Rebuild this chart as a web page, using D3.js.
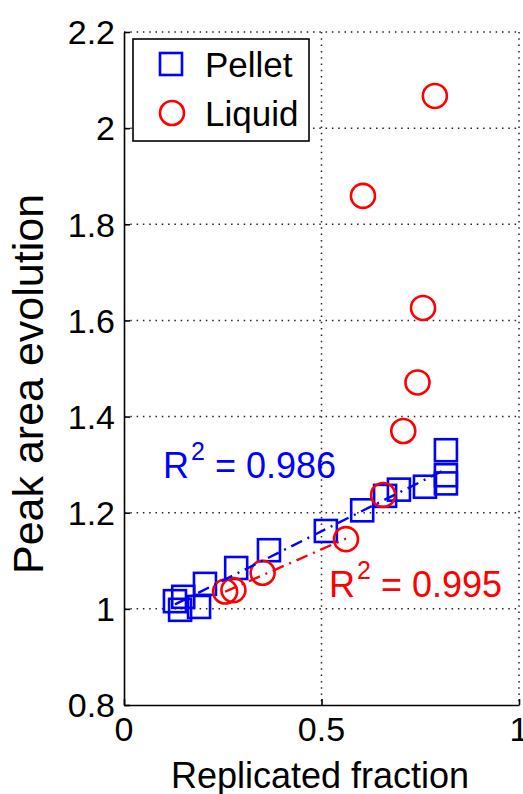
<!doctype html>
<html>
<head>
    <style>
        body { margin: 0; background: #fff; }
        text { font-family: "Liberation Sans", Arial, Helvetica, sans-serif; fill: #000; }
        .grid line { stroke: #222; stroke-width: 1.5; stroke-dasharray: 1.5, 4.8; }
    </style>
    <script src="https://cdnjs.cloudflare.com/ajax/libs/d3/7.8.5/d3.min.js"></script>
</head>
<body>
<svg width="523" height="794" class="svg1"></svg>
<script>

    // Pellet (squares)
    var pelletX = [0.129, 0.142, 0.150, 0.190, 0.205, 0.284, 0.367, 0.511, 0.603, 0.661, 0.696, 0.762, 0.815, 0.815, 0.815];
    var pelletY = [1.016, 0.998, 1.025, 1.004, 1.052, 1.085, 1.122, 1.162, 1.205, 1.235, 1.248, 1.254, 1.261, 1.278, 1.330];

    // Liquid (circles) - first four are the ones in the linear fit
    var liquidX = [0.256, 0.277, 0.351, 0.562, 0.656, 0.707, 0.743, 0.757, 0.605, 0.787];
    var liquidY = [1.036, 1.039, 1.075, 1.145, 1.237, 1.370, 1.471, 1.626, 1.859, 2.067];
    var liquidFitN = 4;

    var xTicks = [0, 0.5, 1];
    var xTickLabels = ["0", "0.5", "1"];
    var yTicks = [0.8, 1, 1.2, 1.4, 1.6, 1.8, 2, 2.2];
    var yTickLabels = ["0.8", "1", "1.2", "1.4", "1.6", "1.8", "2", "2.2"];

    var r2Pellet = "0.986", r2Liquid = "0.995";

    var svg = d3.select(".svg1");
    var padL = 124, padR = 519, padT = 32, padB = 705;

    var xScale = d3.scaleLinear().domain([0, 1]).range([padL, padR]),
        yScale = d3.scaleLinear().domain([0.8, 2.2]).range([padB, padT]);

    // dotted grid
    var grid = svg.append("g").attr("class", "grid");
    grid.selectAll(".gx")
        .data(xTicks.filter(function(d) { return d > 0; }))
        .enter().append("line")
        .attr("x1", function(d) { return xScale(d); })
        .attr("x2", function(d) { return xScale(d); })
        .attr("y1", padT).attr("y2", padB);
    grid.selectAll(".gy")
        .data(yTicks.filter(function(d) { return d > 0.8; }))
        .enter().append("line")
        .attr("y1", function(d) { return yScale(d); })
        .attr("y2", function(d) { return yScale(d); })
        .attr("x1", padL).attr("x2", padR);

    // axes (ticks pointing inward)
    svg.append("g")
        .attr("transform", "translate(0," + padB + ")")
        .call(d3.axisTop(xScale).tickValues(xTicks).tickSize(6).tickSizeOuter(0).tickFormat(""));
    svg.append("g")
        .attr("transform", "translate(" + padL + ",0)")
        .call(d3.axisRight(yScale).tickValues(yTicks).tickSize(6).tickSizeOuter(0).tickFormat(""));
    svg.selectAll(".domain, .tick line").attr("stroke", "#000").attr("stroke-width", 1.6);

    svg.selectAll(".xlab")
        .data(xTicks)
        .enter().append("text")
        .attr("x", function(d) { return xScale(d); })
        .attr("y", 741)
        .attr("text-anchor", "middle")
        .attr("font-size", "34px")
        .text(function(d, i) { return xTickLabels[i]; });

    svg.selectAll(".ylab")
        .data(yTicks)
        .enter().append("text")
        .attr("x", 115)
        .attr("y", function(d) { return yScale(d); })
        .attr("dy", "0.36em")
        .attr("text-anchor", "end")
        .attr("font-size", "34px")
        .text(function(d, i) { return yTickLabels[i]; });

    svg.append("text")
        .attr("x", 320).attr("y", 788)
        .attr("text-anchor", "middle")
        .attr("font-size", "36px")
        .text("Replicated fraction");

    svg.append("text")
        .attr("transform", "translate(43,384) rotate(-90)")
        .attr("text-anchor", "middle")
        .attr("font-size", "43px")
        .text("Peak area evolution");

    // markers
    var pellet = pelletX.map(function(x, i) { return [x, pelletY[i]]; });
    var liquid = liquidX.map(function(x, i) { return [x, liquidY[i]]; });

    svg.selectAll(".sq")
        .data(pellet)
        .enter().append("rect")
        .attr("x", function(d) { return xScale(d[0]) - 11; })
        .attr("y", function(d) { return yScale(d[1]) - 11; })
        .attr("width", 22).attr("height", 22)
        .attr("fill", "none").attr("stroke", "#0000ff").attr("stroke-width", 2.6);

    svg.selectAll(".ci")
        .data(liquid)
        .enter().append("circle")
        .attr("cx", function(d) { return xScale(d[0]); })
        .attr("cy", function(d) { return yScale(d[1]); })
        .attr("r", 12)
        .attr("fill", "none").attr("stroke", "#ff0000").attr("stroke-width", 2.6);

    // least squares fit line over the points' x range
    function fit(pts) {
        var mx = d3.mean(pts, function(d) { return d[0]; }),
            my = d3.mean(pts, function(d) { return d[1]; });
        var sxy = d3.sum(pts, function(d) { return (d[0] - mx) * (d[1] - my); }),
            sxx = d3.sum(pts, function(d) { return (d[0] - mx) * (d[0] - mx); });
        var b = sxy / sxx, a = my - b * mx;
        var ext = d3.extent(pts, function(d) { return d[0]; });
        return ext.map(function(x) { return [x, a + b * x]; });
    }
    var line = d3.line()
        .x(function(d) { return xScale(d[0]); })
        .y(function(d) { return yScale(d[1]); });

    svg.append("path")
        .attr("d", line(fit(pellet)))
        .attr("fill", "none").attr("stroke", "#0000ff").attr("stroke-width", 2.4)
        .attr("stroke-dasharray", "12,6,2,6");
    svg.append("path")
        .attr("d", line(fit(liquid.slice(0, liquidFitN))))
        .attr("fill", "none").attr("stroke", "#ff0000").attr("stroke-width", 2.4)
        .attr("stroke-dasharray", "12,6,2,6");

    // R^2 annotations
    function r2Label(x, y, color, val) {
        var t = svg.append("text")
            .attr("x", x).attr("y", y)
            .attr("font-size", "36px")
            .style("fill", color);
        t.append("tspan").text("R");
        t.append("tspan").attr("dx", 2).attr("dy", -18).attr("font-size", "25px").text("2");
        t.append("tspan").attr("dy", 18).text(" = " + val);
    }
    r2Label(163, 478, "#0000ff", r2Pellet);
    r2Label(329, 597, "#ff0000", r2Liquid);

    // legend
    var leg = svg.append("g");
    leg.append("rect")
        .attr("x", 133).attr("y", 39).attr("width", 176).attr("height", 102)
        .attr("fill", "#fff").attr("stroke", "#000").attr("stroke-width", 1.6);
    leg.append("rect")
        .attr("x", 160).attr("y", 53).attr("width", 22).attr("height", 22)
        .attr("fill", "none").attr("stroke", "#0000ff").attr("stroke-width", 2.6);
    leg.append("circle")
        .attr("cx", 172).attr("cy", 113).attr("r", 12)
        .attr("fill", "none").attr("stroke", "#ff0000").attr("stroke-width", 2.6);
    leg.append("text").attr("x", 205).attr("y", 77).attr("font-size", "35px").text("Pellet");
    leg.append("text").attr("x", 205).attr("y", 126).attr("font-size", "35px").text("Liquid");

</script>
</body>
</html>
